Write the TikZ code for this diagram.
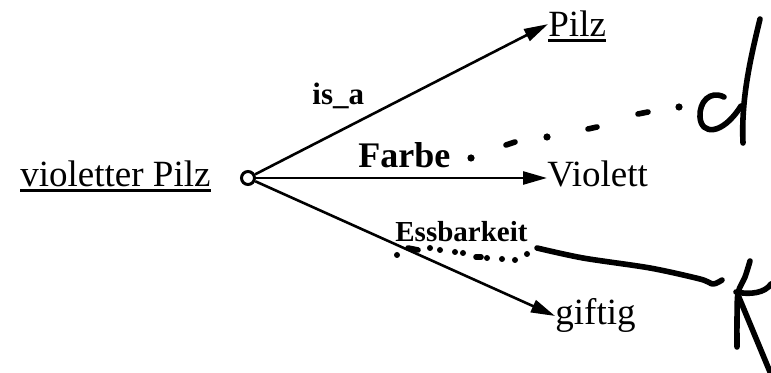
\documentclass[tikz,border=0pt]{standalone}
\usepackage{fontspec}
\setmainfont{Liberation Serif}
\usetikzlibrary{arrows.meta}

\begin{document}
\begin{tikzpicture}[x=0.5pt, y=-0.5pt, >={Triangle[length=12pt, width=6.5pt]},
  every node/.style={inner sep=0pt, font=\fontsize{18.5}{22}\selectfont},
  word/.style={anchor=base west},
  rel/.style={anchor=base west, font=\bfseries\fontsize{#1}{20}\selectfont},
  edge/.style={line width=1.3pt},
  hand/.style={line width=2.8pt, line cap=round, line join=round}]
  \useasboundingbox (0,0) rectangle (771,373);

  \node[word] (vPilz) at (20,187) {violetter Pilz};
  \node[draw, circle, line width=1.5pt, minimum size=6.5pt] (hub) at (248,178) {};
  \node[word] (pilz) at (548,37) {Pilz};
  \node[word] (violett) at (547,187) {Violett};
  \node[word] (giftig) at (555,325) {giftig};
  \node[rel=15.5] (isA) at (312,105) {is\_a};
  \node[rel=18] (farbe) at (358,168) {Farbe};
  \node[rel=14.5] (essbarkeit) at (395,242) {Essbarkeit};

  \draw[edge, ->] (hub) -- (pilz.west);
  \draw[edge, ->] (hub) -- (hub -| violett.west);
  \draw[edge, ->] (hub) -- (giftig.west);
  \draw[edge] ([yshift=-1.7pt]vPilz.base west) -- ([yshift=-1.7pt]vPilz.base east);
  \draw[edge] ([yshift=-1.7pt]pilz.base west) -- ([yshift=-1.7pt]pilz.base east);

  % handwritten marks
  \foreach \p in {(471,158),(547,137),(679,107)} \fill \p circle (1.8pt);
  \draw[hand] (506,145) -- (515,142);
  \draw[hand] (588,129) -- (597,127);
  \draw[hand] (638,114) -- (648,112);
  \draw[hand] (760,19) .. controls (750,60) and (741,100) .. (743,143);
  \draw[hand] (724,97) .. controls (710,90) and (699,102) .. (700,117) .. controls (701,135) and (722,136) .. (741,106);

  \foreach \p in {(397,255),(430,248),(440,250),(455,252),(463,253),(487,258),(502,259),(515,260),(527,254)} \fill \p circle (1.5pt);
  \draw[hand] (408,248) -- (418,250);
  \draw[hand] (476,257) -- (481,257);
  \draw[hand] plot[smooth] coordinates {(537,248) (583,258) (650,268) (700,279) (713,284) (722,280)};
  \draw[hand] plot[smooth] coordinates {(750,261) (745,277) (738,293) (737,320) (737,347)};
  \draw[hand] (736,292) .. controls (750,295) and (765,293) .. (771,284);
  \draw[hand] (738,295) -- (770,372);
\end{tikzpicture}
\end{document}
